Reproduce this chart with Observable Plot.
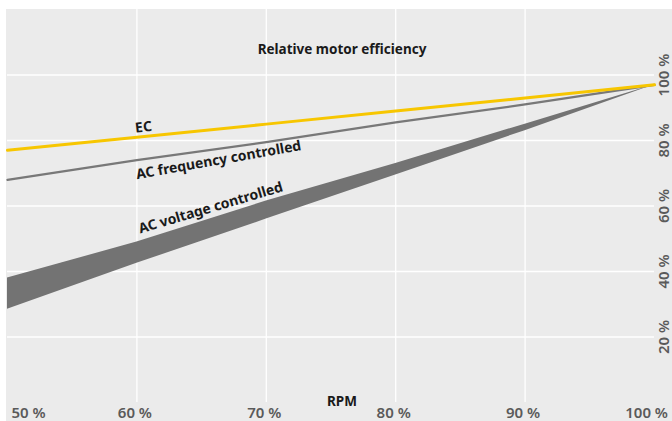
<!DOCTYPE html>
<html>
<head>
<meta charset="utf-8">
<script src="https://cdn.jsdelivr.net/npm/d3@7"></script>
<script src="https://cdn.jsdelivr.net/npm/@observablehq/plot@0.6"></script>
<style>
  html, body { margin: 0; padding: 0; background: #ffffff; }
  #chart { padding: 9px 0 0 6px; }
  #chart svg { display: block; }
</style>
</head>
<body>
<div id="chart"></div>
<script>
// RPM (% of nominal)
const rpm = [50, 60, 70, 80, 90, 100];
// Relative motor efficiency (%)
const ecEfficiency = [77, 81, 85, 89, 93, 97];
const acFrequency = [68, 74, 79.5, 85.5, 91, 97];
const acVoltageUpper = [38, 49, 61.5, 73, 85, 97];
const acVoltageLower = [28.5, 42.5, 56, 69.5, 83, 97];

const xGridTicks = [60, 70, 80, 90];
const yGridTicks = [20, 40, 60, 80, 100];
const xTickLabels = [50, 60, 70, 80, 90, 100];
const yTickLabels = [20, 40, 60, 80, 100];

const title = "Relative motor efficiency";
const xTitle = "RPM";
const seriesLabels = ["EC", "AC frequency controlled", "AC voltage controlled"];

const ec = rpm.map((x, i) => ({x, y: ecEfficiency[i]}));
const freq = rpm.map((x, i) => ({x, y: acFrequency[i]}));
const volt = rpm.map((x, i) => ({x, y1: acVoltageLower[i], y2: acVoltageUpper[i]}));

const font = "'Noto Sans', 'DejaVu Sans', sans-serif";
const pct = d => `${d} %`;
const labelStyle = {fontSize: 13.5, fontWeight: "bold", fill: "#1a1a1a"};
const tickStyle = {fontSize: 15, fontWeight: 600, fill: "#5a5a5a"};

const plot = Plot.plot({
  width: 666,
  height: 412,
  marginLeft: 1,
  marginRight: 18,
  marginTop: 0,
  marginBottom: 19,
  x: {domain: [50, 100], axis: null},
  y: {domain: [0, 120], axis: null},
  style: {background: "#ebebeb", fontFamily: font},
  marks: [
    Plot.ruleY(yGridTicks, {stroke: "#ffffff", strokeWidth: 1.3}),
    Plot.ruleX(xGridTicks, {stroke: "#ffffff", strokeWidth: 1.3}),
    Plot.areaY(volt, {x: "x", y1: "y1", y2: "y2", fill: "#737373"}),
    Plot.line(freq, {x: "x", y: "y", stroke: "#787878", strokeWidth: 2.3}),
    Plot.line(ec, {x: "x", y: "y", stroke: "#f7c600", strokeWidth: 3}),
    // series labels
    Plot.text([seriesLabels[0]], {x: 59.9, y: 82.4, text: d => d, textAnchor: "start", lineAnchor: "bottom", rotate: -6, ...labelStyle, fontSize: 14}),
    Plot.text([seriesLabels[1]], {x: 60, y: 68.2, text: d => d, textAnchor: "start", lineAnchor: "bottom", rotate: -10, ...labelStyle, fontSize: 14}),
    Plot.text([seriesLabels[2]], {x: 60.25, y: 51.6, text: d => d, textAnchor: "start", lineAnchor: "bottom", rotate: -16.5, ...labelStyle, fontSize: 14}),
    // title
    Plot.text([title], {frameAnchor: "top", dx: 11, dy: 35, text: d => d, ...labelStyle}),
    // x title
    Plot.text([xTitle], {frameAnchor: "bottom", dx: 11, dy: 3, text: d => d, ...labelStyle}),
    // x tick labels
    Plot.text(xTickLabels.filter(d => d === 50), {x: d => d, frameAnchor: "bottom", dx: 4, dy: 15, text: pct, textAnchor: "start", ...tickStyle}),
    Plot.text(xTickLabels.filter(d => d > 50 && d < 100), {x: d => d, frameAnchor: "bottom", dx: -2, dy: 15, text: pct, textAnchor: "middle", ...tickStyle}),
    Plot.text(xTickLabels.filter(d => d === 100), {x: d => d, frameAnchor: "bottom", dx: 13.5, dy: 15, text: pct, textAnchor: "end", ...tickStyle}),
    // y tick labels (right side, rotated)
    Plot.text(yTickLabels, {y: d => d, frameAnchor: "right", dx: 9.5, text: pct, rotate: -90, textAnchor: "middle", ...tickStyle})
  ]
});
document.getElementById("chart").appendChild(plot);
</script>
</body>
</html>
